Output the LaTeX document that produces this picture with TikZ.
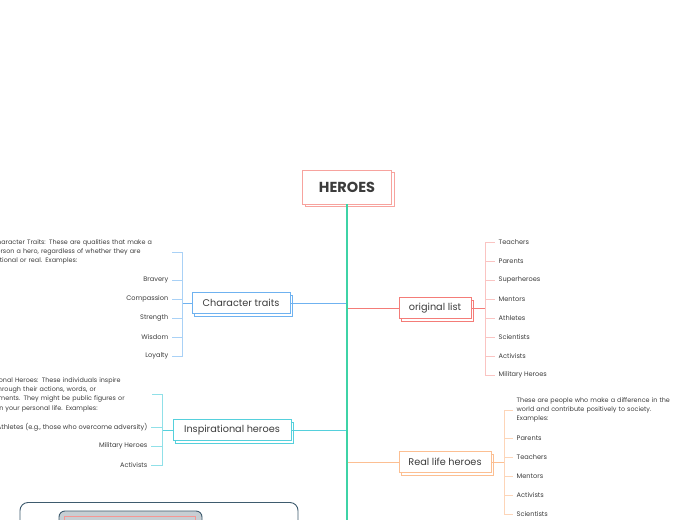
\documentclass[tikz,border=0pt]{standalone}
\usepackage{fontspec}
\setmainfont{Poppins}
\usepackage{xcolor}
\usetikzlibrary{positioning,shadows}

\definecolor{inkc}{HTML}{3C3C3C}
\definecolor{trunkc}{HTML}{3DD3A6}
\definecolor{heroc}{HTML}{F7A39E}
\definecolor{bluec}{HTML}{6FB2F0}
\definecolor{redc}{HTML}{F47C78}
\definecolor{tealc}{HTML}{55D0DC}
\definecolor{orangec}{HTML}{FCBF92}
\definecolor{slatec}{HTML}{3E5B6E}
\definecolor{grayfill}{HTML}{C7CED3}

\begin{document}
\begin{tikzpicture}[
    x=1pt, y=-1pt,
    box/.style={draw, line width=0.9pt, fill=white, text=inkc, minimum height=21pt, inner xsep=6pt,
      font=\fontsize{9.7}{11}\selectfont, copy shadow={shadow xshift=2.5pt, shadow yshift=-2.5pt}},
    leaf/.style={inner xsep=3.5pt, inner ysep=1pt, text=inkc, font=\fontsize{6.6}{10}\selectfont},
    leafl/.style={leaf, anchor=east},
    leafr/.style={leaf, anchor=west},
    desc/.style={leaf, align=left, font=\fontsize{6.4}{9.3}\selectfont},
    trunk/.style={draw=trunkc, line width=1.2pt},
    bluel/.style={draw=bluec, line width=1pt},
    redl/.style={draw=redc, line width=1pt},
    teall/.style={draw=tealc, line width=1pt},
    orangel/.style={draw=orangec, line width=1pt},
    bluep/.style={draw=bluec!60, line width=0.8pt},
    redp/.style={draw=redc!45, line width=0.8pt},
    tealp/.style={draw=tealc!65, line width=0.8pt},
    orangep/.style={draw=orangec!65, line width=0.8pt}
  ]
    \useasboundingbox (0,0) rectangle (697,520);
    \clip (0,0) rectangle (697,520);

    % central topic and trunk
    \node[box, draw=heroc, minimum width=89pt, minimum height=34pt, font=\fontsize{14.5}{16}\bfseries] (heroes) at (347,187) {HEROES};
    \coordinate (tbot) at (347,530);
    \coordinate (jtr) at (347,303);
    \coordinate (jol) at (347,308);
    \coordinate (jin) at (347,430);
    \coordinate (jrl) at (347,462);

    % main branches
    \node[box, draw=bluec, minimum width=98pt] (traits) at (241,303) {Character traits};
    \node[box, draw=redc, minimum width=72pt] (origlist) at (435,308) {original list};
    \node[box, draw=tealc, minimum width=118pt] (inspire) at (232,430) {Inspirational heroes};
    \node[box, draw=orangec, minimum width=92pt] (reallife) at (445,462) {Real life heroes};

    \draw[bluel] (jtr) -- (traits);
    \draw[redl] (jol) -- (origlist);
    \draw[teall] (jin) -- (inspire);
    \draw[orangel] (jrl) -- (reallife);
    \draw[trunk] (heroes.south) -- (tbot);

    % character traits
    \coordinate (tbr) at (182,303);
    \node[desc, anchor=east, text width=176pt] (tdesc) at (172,252) {Character Traits: These are qualities that make a\\person a hero, regardless of whether they are\\fictional or real. Examples:};
    \node[leafl] (bravery) at (172,280) {Bravery};
    \node[leafl] (compassion) at (172,299) {Compassion};
    \node[leafl] (strength) at (172,318) {Strength};
    \node[leafl] (wisdom) at (172,337) {Wisdom};
    \node[leafl] (loyalty) at (172,356) {Loyalty};
    \draw[bluel] (traits) -- (tbr);
    \draw[bluep] (tbr) |- (tdesc.east);
    \draw[bluep] (tbr) |- (bravery.east);
    \draw[bluep] (tbr) |- (compassion.east);
    \draw[bluep] (tbr) |- (strength.east);
    \draw[bluep] (tbr) |- (wisdom.east);
    \draw[bluep] (tbr) |- (loyalty.east);

    % original list
    \coordinate (obr) at (485,308);
    \node[leafr] (oteach) at (495,242) {Teachers};
    \node[leafr] (oparent) at (495,261) {Parents};
    \node[leafr] (osuper) at (495,280) {Superheroes};
    \node[leafr] (omentor) at (495,299) {Mentors};
    \node[leafr] (oathl) at (495,318) {Athletes};
    \node[leafr] (oscien) at (495,337) {Scientists};
    \node[leafr] (oactiv) at (495,356) {Activists};
    \node[leafr] (omilit) at (495,375) {Military Heroes};
    \draw[redl] (origlist) -- (obr);
    \draw[redp] (obr) |- (oteach.west);
    \draw[redp] (obr) |- (oparent.west);
    \draw[redp] (obr) |- (osuper.west);
    \draw[redp] (obr) |- (omentor.west);
    \draw[redp] (obr) |- (oathl.west);
    \draw[redp] (obr) |- (oscien.west);
    \draw[redp] (obr) |- (oactiv.west);
    \draw[redp] (obr) |- (omilit.west);

    % inspirational heroes
    \coordinate (ibr) at (162,430);
    \node[desc, anchor=east, text width=175pt] (idesc) at (152,394.5) {Inspirational Heroes: These individuals inspire\\others through their actions, words, or\\achievements. They might be public figures or\\people in your personal life. Examples:};
    \node[leafl] (iathl) at (151,427) {Athletes (e.g., those who overcome adversity)};
    \node[leafl] (imilit) at (151,446) {Military Heroes};
    \node[leafl] (iactiv) at (151,465) {Activists};
    \draw[teall] (inspire) -- (ibr);
    \draw[tealp] (ibr) |- (idesc.east);
    \draw[tealp] (ibr) |- (iathl.east);
    \draw[tealp] (ibr) |- (imilit.east);
    \draw[tealp] (ibr) |- (iactiv.east);

    % real life heroes
    \coordinate (rbr) at (504,462);
    \node[desc, anchor=west, text width=175pt] (rdesc) at (513,410) {These are people who make a difference in the\\world and contribute positively to society.\\Examples:};
    \node[leafr] (rparent) at (513,438) {Parents};
    \node[leafr] (rteach) at (513,457) {Teachers};
    \node[leafr] (rmentor) at (513,476) {Mentors};
    \node[leafr] (ractiv) at (513,495) {Activists};
    \node[leafr] (rscien) at (513,514) {Scientists};
    \draw[orangel] (reallife) -- (rbr);
    \draw[orangep] (rbr) |- (rdesc.west);
    \draw[orangep] (rbr) |- (rparent.west);
    \draw[orangep] (rbr) |- (rteach.west);
    \draw[orangep] (rbr) |- (rmentor.west);
    \draw[orangep] (rbr) |- (ractiv.west);
    \draw[orangep] (rbr) |- (rscien.west);

    % boxes cut off at the bottom
    \draw[slatec, line width=0.9pt, rounded corners=8pt, fill=white] (20,502.5) rectangle (298,560);
    \draw[slatec, line width=0.9pt, rounded corners=6pt, fill=grayfill] (59,511) rectangle (202,560);
    \draw[redc!80, line width=0.7pt] (64,516.5) rectangle (195,560);
  \end{tikzpicture}
\end{document}
